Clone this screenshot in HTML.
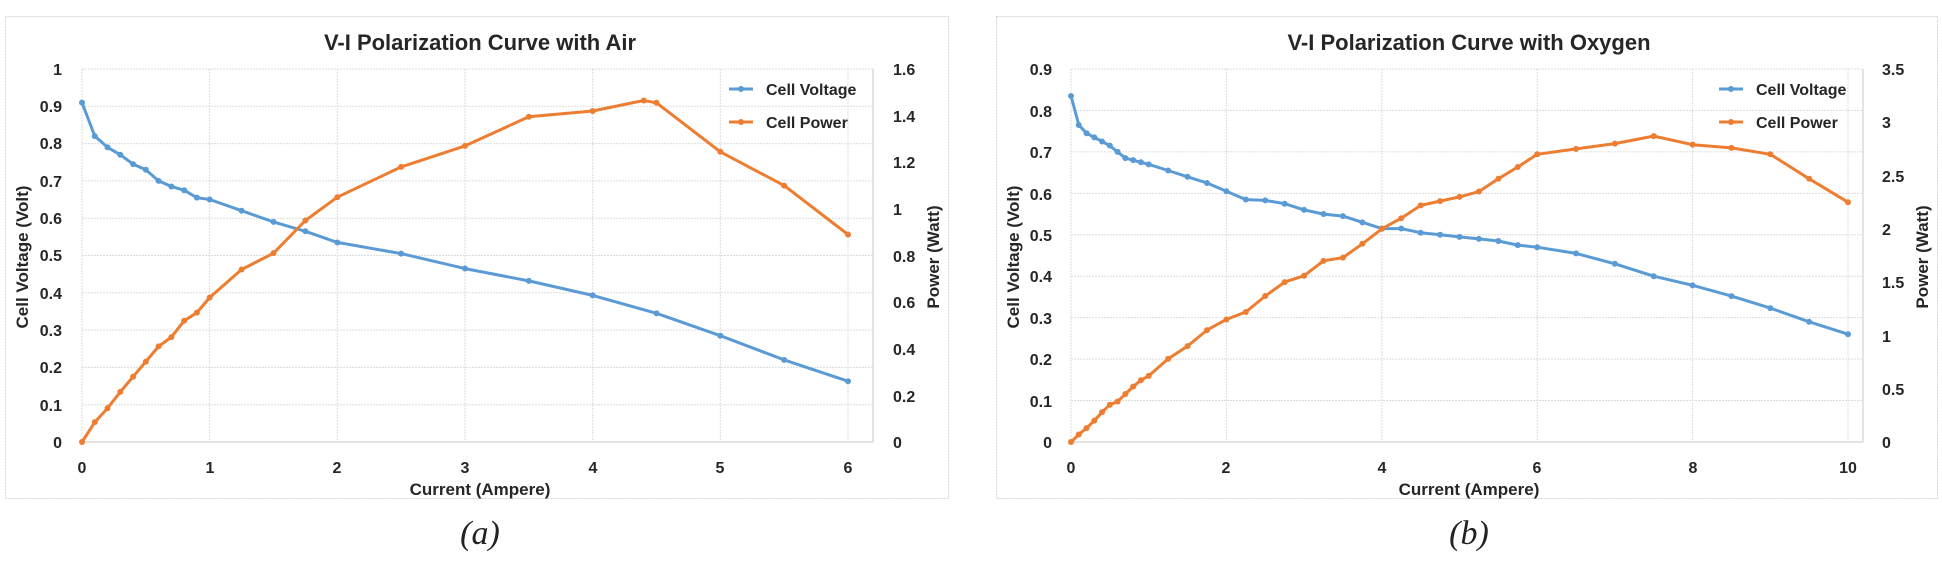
<!DOCTYPE html>
<html><head><meta charset="utf-8"><style>
html,body{margin:0;padding:0;background:#fff;}
svg{display:block;}
text{font-family:"Liberation Sans",sans-serif;font-weight:bold;fill:#262626;}
.t{font-size:16px;}
.ti{font-size:22px;}
.ax{font-size:17px;}
.cap{font-family:"Liberation Serif",serif;font-style:italic;font-weight:normal;font-size:34px;fill:#222;}
.g{stroke:#dcdcdc;stroke-width:1;stroke-dasharray:2,1;fill:none;}
.fr{stroke:#d4d4d4;stroke-width:1;stroke-dasharray:2,1;fill:none;}
</style></head><body>
<svg id="s" width="1942" height="565" xmlns="http://www.w3.org/2000/svg">
<rect x="5.5" y="16.5" width="943" height="482" class="fr"/>
<rect x="996.5" y="16.5" width="941" height="482" class="fr"/>
<g id="grid"></g>
<text class="ti" x="480" y="50" text-anchor="middle">V-I Polarization Curve with Air</text>
<g class="t" text-anchor="end">
<text x="62" y="75">1</text><text x="62" y="112">0.9</text><text x="62" y="149">0.8</text><text x="62" y="187">0.7</text><text x="62" y="224">0.6</text><text x="62" y="261">0.5</text><text x="62" y="299">0.4</text><text x="62" y="336">0.3</text><text x="62" y="373">0.2</text><text x="62" y="411">0.1</text><text x="62" y="448">0</text>
</g>
<g class="t">
<text x="893" y="75">1.6</text><text x="893" y="122">1.4</text><text x="893" y="168">1.2</text><text x="893" y="215">1</text><text x="893" y="262">0.8</text><text x="893" y="308">0.6</text><text x="893" y="355">0.4</text><text x="893" y="402">0.2</text><text x="893" y="448">0</text>
</g>
<g class="t" text-anchor="middle">
<text x="82" y="473">0</text><text x="210" y="473">1</text><text x="337" y="473">2</text><text x="465" y="473">3</text><text x="593" y="473">4</text><text x="720" y="473">5</text><text x="848" y="473">6</text>
</g>
<text class="ax" x="480" y="495" text-anchor="middle">Current (Ampere)</text>
<text class="ax" transform="translate(28,257) rotate(-90)" text-anchor="middle">Cell Voltage (Volt)</text>
<text class="ax" transform="translate(939,257) rotate(-90)" text-anchor="middle">Power (Watt)</text>
<line x1="729" y1="89" x2="753" y2="89" stroke="#5b9bd5" stroke-width="3"/><circle cx="741" cy="89" r="3" fill="#5b9bd5"/>
<text class="t" x="766" y="95">Cell Voltage</text>
<line x1="729" y1="122" x2="753" y2="122" stroke="#ed7d31" stroke-width="3"/><circle cx="741" cy="122" r="3" fill="#ed7d31"/>
<text class="t" x="766" y="128">Cell Power</text>
<text class="cap" x="480" y="544" text-anchor="middle">(a)</text>
<text class="ti" x="1469" y="50" text-anchor="middle">V-I Polarization Curve with Oxygen</text>
<g class="t" text-anchor="end">
<text x="1052" y="75">0.9</text><text x="1052" y="117">0.8</text><text x="1052" y="158">0.7</text><text x="1052" y="200">0.6</text><text x="1052" y="241">0.5</text><text x="1052" y="282">0.4</text><text x="1052" y="324">0.3</text><text x="1052" y="365">0.2</text><text x="1052" y="407">0.1</text><text x="1052" y="448">0</text>
</g>
<g class="t">
<text x="1882" y="75">3.5</text><text x="1882" y="128">3</text><text x="1882" y="182">2.5</text><text x="1882" y="235">2</text><text x="1882" y="288">1.5</text><text x="1882" y="342">1</text><text x="1882" y="395">0.5</text><text x="1882" y="448">0</text>
</g>
<g class="t" text-anchor="middle">
<text x="1071" y="473">0</text><text x="1226" y="473">2</text><text x="1382" y="473">4</text><text x="1537" y="473">6</text><text x="1693" y="473">8</text><text x="1848" y="473">10</text>
</g>
<text class="ax" x="1469" y="495" text-anchor="middle">Current (Ampere)</text>
<text class="ax" transform="translate(1019,257) rotate(-90)" text-anchor="middle">Cell Voltage (Volt)</text>
<text class="ax" transform="translate(1928,257) rotate(-90)" text-anchor="middle">Power (Watt)</text>
<line x1="1719" y1="89" x2="1743" y2="89" stroke="#5b9bd5" stroke-width="3"/><circle cx="1731" cy="89" r="3" fill="#5b9bd5"/>
<text class="t" x="1756" y="95">Cell Voltage</text>
<line x1="1719" y1="122" x2="1743" y2="122" stroke="#ed7d31" stroke-width="3"/><circle cx="1731" cy="122" r="3" fill="#ed7d31"/>
<text class="t" x="1756" y="128">Cell Power</text>
<text class="cap" x="1469" y="544" text-anchor="middle">(b)</text>
<g id="data"></g>
</svg>
<script>
var NS="http://www.w3.org/2000/svg";
function el(p,t,a){var e=document.createElementNS(NS,t);for(var k in a)e.setAttribute(k,a[k]);p.appendChild(e);return e;}
var grid=document.getElementById('grid'),data=document.getElementById('data');
function chart(c){
 var X=function(v){return c.x0+(c.x1-c.x0)*v/c.xmax;};
 var YL=function(v){return c.y0+(c.y1-c.y0)*v/c.lmax;};
 var YR=function(v){return c.y0+(c.y1-c.y0)*v/c.rmax;};
 for(var i=0;i<=c.xmax;i+=c.xs)el(grid,'line',{x1:X(i),x2:X(i),y1:c.y1,y2:c.y0,'class':'g'});
 for(var j=0;j<=c.lmax+1e-9;j+=c.ls)el(grid,'line',{x1:c.x0,x2:c.pr,y1:YL(j),y2:YL(j),'class':'g'});
 el(grid,'line',{x1:c.x0,x2:c.pr,y1:c.y0,y2:c.y0,stroke:'#c8c8c8'});
 el(grid,'line',{x1:c.pr,x2:c.pr,y1:c.y1,y2:c.y0,stroke:'#c8c8c8'});
 [[c.v,YL,'#5b9bd5'],[c.p,YR,'#ed7d31']].forEach(function(s){
  var pts=s[0].map(function(d){return X(d[0]).toFixed(1)+','+s[1](d[1]).toFixed(1);});
  el(data,'polyline',{points:pts.join(' '),fill:'none',stroke:s[2],'stroke-width':3,'stroke-linejoin':'round'});
  s[0].forEach(function(d){el(data,'circle',{cx:X(d[0]),cy:s[1](d[1]),r:3,fill:s[2]});});
 });
}
chart({x0:82,x1:848,xmax:6,xs:1,y0:442,y1:69,lmax:1,ls:0.1,rmax:1.6,pr:873,
v:[[0,.91],[.1,.82],[.2,.79],[.3,.77],[.4,.745],[.5,.73],[.6,.70],[.7,.685],[.8,.675],[.9,.655],[1,.65],[1.25,.62],[1.5,.59],[1.75,.565],[2,.535],[2.5,.505],[3,.465],[3.5,.432],[4,.393],[4.5,.345],[5,.285],[5.5,.22],[6,.163]],
p:[[0,0],[.1,.085],[.2,.145],[.3,.215],[.4,.28],[.5,.345],[.6,.41],[.7,.45],[.8,.52],[.9,.555],[1,.62],[1.25,.74],[1.5,.81],[1.75,.95],[2,1.05],[2.5,1.18],[3,1.27],[3.5,1.395],[4,1.42],[4.4,1.465],[4.5,1.455],[5,1.245],[5.5,1.1],[6,.89]]});
chart({x0:1071,x1:1848,xmax:10,xs:2,y0:442,y1:69,lmax:0.9,ls:0.1,rmax:3.5,pr:1863,
v:[[0,.835],[.1,.765],[.2,.745],[.3,.735],[.4,.725],[.5,.715],[.6,.70],[.7,.685],[.8,.68],[.9,.675],[1,.67],[1.25,.655],[1.5,.64],[1.75,.625],[2,.605],[2.25,.585],[2.5,.583],[2.75,.575],[3,.56],[3.25,.55],[3.5,.545],[3.75,.53],[4,.515],[4.25,.515],[4.5,.505],[4.75,.5],[5,.495],[5.25,.49],[5.5,.485],[5.75,.475],[6,.47],[6.5,.455],[7,.43],[7.5,.40],[8,.378],[8.5,.352],[9,.323],[9.5,.29],[10,.26]],
p:[[0,0],[.1,.07],[.2,.13],[.3,.2],[.4,.28],[.5,.35],[.6,.38],[.7,.45],[.8,.52],[.9,.58],[1,.62],[1.25,.78],[1.5,.9],[1.75,1.05],[2,1.15],[2.25,1.22],[2.5,1.37],[2.75,1.5],[3,1.56],[3.25,1.7],[3.5,1.73],[3.75,1.86],[4,2.0],[4.25,2.1],[4.5,2.22],[4.75,2.26],[5,2.3],[5.25,2.35],[5.5,2.47],[5.75,2.58],[6,2.7],[6.5,2.75],[7,2.8],[7.5,2.87],[8,2.79],[8.5,2.76],[9,2.7],[9.5,2.47],[10,2.25]]});
</script>
</body></html>
